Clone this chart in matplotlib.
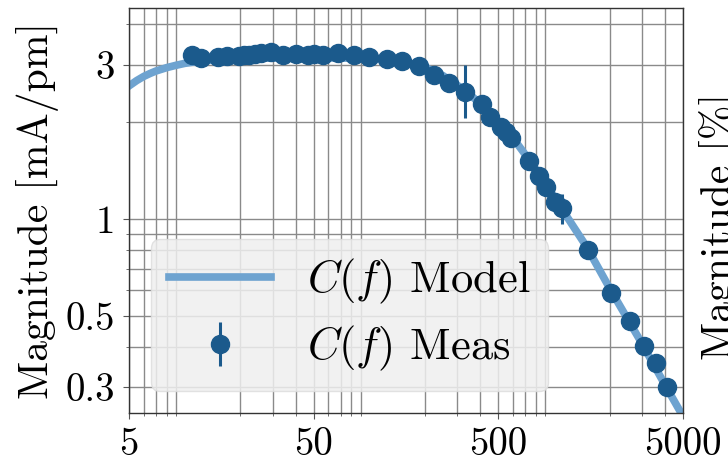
import matplotlib
matplotlib.use('Agg')
import matplotlib.pyplot as plt
from matplotlib.ticker import FixedLocator, FixedFormatter, NullFormatter, LogLocator

# fonte parecida com LaTeX (Computer Modern)
plt.rcParams['font.family'] = 'serif'
plt.rcParams['font.serif'] = ['cmr10', 'DejaVu Serif']
plt.rcParams['mathtext.fontset'] = 'cm'
plt.rcParams['axes.formatter.use_mathtext'] = True
plt.rcParams['axes.unicode_minus'] = False

# =-=-=-=-=-=-=-=-=-=-=-=-=-=-=-=-=-=-=-=-=-=-=-=-=-=-=-=-=-=-=-=-=-=-=-=-
# dados
# =-=-=-=-=-=-=-=-=-=-=-=-=-=-=-=-=-=-=-=-=-=-=-=-=-=-=-=-=-=-=-=-=-=-=-=-
# curva do modelo
freq_modelo = [5, 5.5, 6, 6.5, 7, 8, 9, 10, 12, 15, 20, 30, 50, 70, 100, 120,
               150, 170, 200, 250, 280, 330, 380, 450, 520, 600, 700, 800,
               1000, 1500, 2000, 2500, 3000, 4000, 5000]
mag_modelo = [2.58, 2.68, 2.76, 2.82, 2.87, 2.94, 2.99, 3.03, 3.08, 3.11,
              3.14, 3.15, 3.15, 3.15, 3.13, 3.11, 3.07, 3.02, 2.95, 2.78,
              2.66, 2.50, 2.33, 2.12, 1.94, 1.78, 1.58, 1.42, 1.17, 0.82,
              0.61, 0.49, 0.41, 0.305, 0.244]

# pontos medidos
freq_meas = [11.0, 12.3, 15.2, 17.0, 19.6, 21.0, 22.2, 24.0, 25.8, 29.2, 34.3,
             40, 46.4, 50, 56, 67.5, 82.4, 99.5, 125, 150, 186, 225, 271, 331,
             409, 452, 519, 553, 588, 737, 825, 911, 1008, 1100, 1522, 2030,
             2576, 3069, 3565, 4092]
mag_meas = [3.22, 3.15, 3.18, 3.20, 3.20, 3.21, 3.22, 3.24, 3.27, 3.29, 3.22,
            3.24, 3.22, 3.24, 3.22, 3.27, 3.22, 3.18, 3.13, 3.09, 2.98, 2.79,
            2.64, 2.47, 2.26, 2.07, 1.93, 1.86, 1.78, 1.51, 1.36, 1.25, 1.13,
            1.08, 0.80, 0.59, 0.483, 0.404, 0.356, 0.300]
err_baixo = [0] * 23 + [0.42] + [0] * 9 + [0.12] + [0] * 6
err_cima = [0] * 23 + [0.53] + [0] * 9 + [0.11] + [0] * 6

xticks = [5, 50, 500, 5000]
xtick_labels = ['5', '50', '500', '5000']
yticks = [0.3, 0.5, 1, 3]
ytick_labels = ['0.3', '0.5', '1', '3']

cor_modelo = '#6ea3d0'
cor_meas = '#1b5a8c'

# =-=-=-=-=-=-=-=-=-=-=-=-=-=-=-=-=-=-=-=-=-=-=-=-=-=-=-=-=-=-=-=-=-=-=-=-
fig = plt.figure(figsize=(7.28, 4.62), dpi=100)
ax = fig.add_axes([0.1772, 0.1061, 0.761, 0.8766])

ax.plot(freq_modelo, mag_modelo, color=cor_modelo, lw=5.5,
        label=r'$C(f)$ Model', zorder=2)
ax.errorbar(freq_meas, mag_meas, yerr=[err_baixo, err_cima], fmt='o', ms=13,
            color=cor_meas, elinewidth=2.2, capsize=0,
            label=r'$C(f)$ Meas', zorder=3)

ax.set_xscale('log')
ax.set_yscale('log')
ax.set_xlim(5, 5000)
ax.set_ylim(0.25, 4.5)

ax.xaxis.set_major_locator(FixedLocator(xticks))
ax.xaxis.set_major_formatter(FixedFormatter(xtick_labels))
ax.xaxis.set_minor_locator(LogLocator(base=10, subs=range(2, 10)))
ax.xaxis.set_minor_formatter(NullFormatter())
ax.yaxis.set_major_locator(FixedLocator(yticks))
ax.yaxis.set_major_formatter(FixedFormatter(ytick_labels))
ax.yaxis.set_minor_locator(LogLocator(base=10, subs=range(2, 10)))
ax.yaxis.set_minor_formatter(NullFormatter())

ax.tick_params(which='both', labelsize=28, color='#555555', direction='out')
ax.tick_params(which='major', length=4, pad=6)
ax.tick_params(which='minor', length=2)

ax.grid(True, which='both', color='#8a8a8a', lw=1.0)
ax.set_axisbelow(True)
for s in ax.spines.values():
    s.set_color('#333333')
    s.set_linewidth(1.0)

ax.set_ylabel('Magnitude [mA/pm]', fontsize=30, labelpad=5)

leg = ax.legend(loc='lower left', fontsize=32, handlelength=2.3,
                borderaxespad=0.5, fancybox=True, framealpha=0.85,
                facecolor='#efefef', edgecolor='#dddddd', labelspacing=0.4)

# rotulo do eixo do grafico vizinho (cortado na borda)
fig.text(699 / 728, 1 - 226 / 462, 'Magnitude [%]', rotation=90,
         ha='left', va='center', fontsize=30)

fig.savefig('out.png', dpi=100)
